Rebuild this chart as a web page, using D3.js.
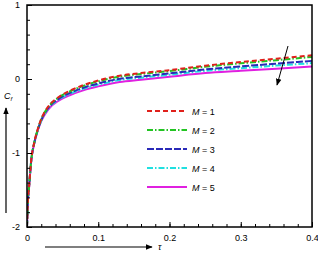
<!DOCTYPE html>
<html>
<head>
<meta charset="utf-8">
<script src="https://cdn.jsdelivr.net/npm/d3@7"></script>
<style>
  body { margin: 0; background: #fff; }
  svg { display: block; font-family: "Liberation Sans", Arial, sans-serif; }
</style>
</head>
<body>
<svg id="chart" width="318" height="255"></svg>
<script>
// tau samples shared by every curve
const tau = [0, 0.001, 0.003, 0.006, 0.01, 0.015, 0.02, 0.03, 0.045, 0.06, 0.08, 0.1, 0.13, 0.16, 0.2, 0.25, 0.3, 0.35, 0.4];

// C_f for each M
const cfM1 = [-2.0, -1.70, -1.445, -1.09, -0.865, -0.68, -0.54, -0.37, -0.24, -0.16, -0.08, -0.02, 0.045, 0.08, 0.12, 0.18, 0.23, 0.275, 0.32];
const cfM2 = [-2.0, -1.70, -1.446, -1.092, -0.867, -0.683, -0.544, -0.376, -0.247, -0.169, -0.09, -0.032, 0.032, 0.067, 0.107, 0.165, 0.212, 0.255, 0.298];
const cfM3 = [-2.0, -1.70, -1.448, -1.095, -0.873, -0.69, -0.555, -0.39, -0.265, -0.19, -0.115, -0.06, 0.003, 0.035, 0.075, 0.13, 0.17, 0.208, 0.245];
const cfM4 = [-2.0, -1.70, -1.449, -1.097, -0.876, -0.694, -0.561, -0.398, -0.275, -0.202, -0.129, -0.076, -0.014, 0.017, 0.057, 0.11, 0.146, 0.181, 0.215];
const cfM5 = [-2.0, -1.70, -1.45, -1.10, -0.88, -0.70, -0.57, -0.41, -0.29, -0.22, -0.15, -0.10, -0.04, -0.01, 0.03, 0.08, 0.11, 0.14, 0.17];

const seriesNames = ['1', '2', '3', '4', '5'];
const xTicks = [0, 0.1, 0.2, 0.3, 0.4];
const yTicks = [-2, -1, 0, 1];

const styles = [
  {color: '#e0201b', dash: '5,3'},
  {color: '#22c422', dash: '6,2,1.5,2'},
  {color: '#2a2ab8', dash: '7,2'},
  {color: '#20e0e0', dash: '6,2,1.5,2'},
  {color: '#e020e0', dash: null}
];

const series = [cfM1, cfM2, cfM3, cfM4, cfM5].map((vals, i) => ({
  name: seriesNames[i],
  style: styles[i],
  points: tau.map((t, j) => [t, vals[j]])
}));

const svg = d3.select('#chart');
const L = 27, R = 312, T = 5, B = 227;

const x = d3.scaleLinear().domain([0, 0.4]).range([L, R]);
const y = d3.scaleLinear().domain([-2, 1]).range([B, T]);

// arrow markers
const defs = svg.append('defs');
defs.append('marker')
    .attr('id', 'head')
    .attr('viewBox', '0 0 10 10')
    .attr('refX', 9).attr('refY', 5)
    .attr('markerWidth', 7).attr('markerHeight', 7)
    .attr('markerUnits', 'userSpaceOnUse')
    .attr('orient', 'auto')
  .append('path')
    .attr('d', 'M0,1 L10,5 L0,9 Z')
    .attr('fill', '#000');

// curves, clipped to plot box
defs.append('clipPath').attr('id', 'clip')
  .append('rect').attr('x', L).attr('y', T).attr('width', R - L).attr('height', B - T);

const line = d3.line()
    .x(d => x(d[0]))
    .y(d => y(d[1]))
    .curve(d3.curveMonotoneX);

svg.append('g').attr('clip-path', 'url(#clip)')
  .selectAll('path')
  .data(series.slice().reverse())
  .join('path')
    .attr('d', d => line(d.points))
    .attr('fill', 'none')
    .attr('stroke', d => d.style.color)
    .attr('stroke-width', 2)
    .attr('stroke-dasharray', d => d.style.dash);

// axes with inward ticks
const xAxis = d3.axisBottom(x).tickValues(xTicks).tickSizeInner(-5).tickSizeOuter(0).tickPadding(8)
    .tickFormat(d => String(d));
const xMinor = d3.axisBottom(x).tickValues(d3.range(0, 0.4001, 0.02)).tickSize(-3).tickFormat('');
const yAxis = d3.axisLeft(y).tickValues(yTicks).tickSizeInner(-5).tickSizeOuter(0).tickPadding(7)
    .tickFormat(d => String(d));
const yMinor = d3.axisLeft(y).tickValues(d3.range(-2, 1.001, 0.2)).tickSize(-3).tickFormat('');

function styleAxis(g) {
  g.select('.domain').remove();
  g.selectAll('line').attr('stroke', '#000').attr('stroke-width', 1);
  g.selectAll('text').attr('font-size', 9).attr('fill', '#000');
}

svg.append('g').attr('transform', `translate(0,${B})`).call(xMinor).call(styleAxis);
svg.append('g').attr('transform', `translate(0,${B})`).call(xAxis).call(styleAxis);
svg.append('g').attr('transform', `translate(${L},0)`).call(yMinor).call(styleAxis);
svg.append('g').attr('transform', `translate(${L},0)`).call(yAxis).call(styleAxis);

svg.append('rect')
    .attr('x', L).attr('y', T).attr('width', R - L).attr('height', B - T)
    .attr('fill', 'none').attr('stroke', '#000').attr('stroke-width', 1.5);

// legend
const legend = svg.append('g').selectAll('g')
  .data(series)
  .join('g')
    .attr('transform', (d, i) => `translate(147,${111 + i * 19})`);
legend.append('line')
    .attr('x1', 0).attr('x2', 40).attr('y1', 0).attr('y2', 0)
    .attr('stroke', d => d.style.color)
    .attr('stroke-width', 2)
    .attr('stroke-dasharray', d => d.style.dash);
const lt = legend.append('text')
    .attr('x', 45).attr('y', 3.5)
    .attr('font-size', 9);
lt.append('tspan').attr('font-style', 'italic').text('M');
lt.append('tspan').text(d => ' = ' + d.name);

// arrow across curves (increasing M)
svg.append('line')
    .attr('x1', 288).attr('y1', 46).attr('x2', 277).attr('y2', 85)
    .attr('stroke', '#000').attr('stroke-width', 1)
    .attr('marker-end', 'url(#head)');

// y axis label and arrow
const cf = svg.append('text').attr('x', 4).attr('y', 99).attr('font-size', 9);
cf.append('tspan').attr('font-style', 'italic').text('C');
cf.append('tspan').attr('font-size', 6).attr('dy', 2).attr('font-style', 'italic').text('f');
svg.append('line')
    .attr('x1', 6).attr('y1', 213).attr('x2', 6).attr('y2', 108)
    .attr('stroke', '#000').attr('stroke-width', 1.2)
    .attr('marker-end', 'url(#head)');

// x axis label and arrow
svg.append('line')
    .attr('x1', 45).attr('y1', 247).attr('x2', 152).attr('y2', 247)
    .attr('stroke', '#000').attr('stroke-width', 1.2)
    .attr('marker-end', 'url(#head)');
svg.append('text')
    .attr('x', 158).attr('y', 250)
    .attr('font-size', 9).attr('font-style', 'italic')
    .text('τ');
</script>
</body>
</html>
